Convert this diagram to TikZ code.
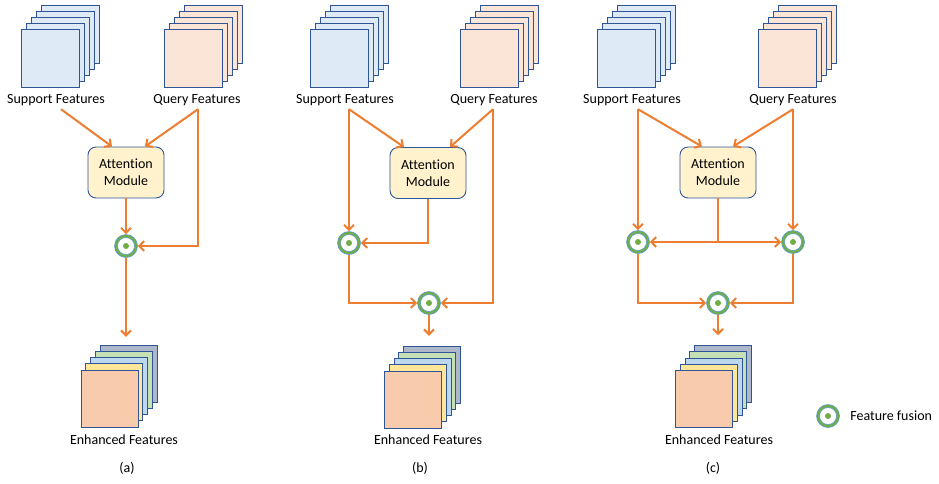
\documentclass[tikz,border=0pt]{standalone}
\usepackage{fontspec}
\setmainfont{Carlito}[Ligatures=NoCommon]
\usetikzlibrary{arrows.meta,positioning}

\definecolor{suppfill}{RGB}{222,235,247}
\definecolor{queryfill}{RGB}{251,229,214}
\definecolor{attnfill}{RGB}{255,242,204}
\definecolor{mapedge}{RGB}{47,85,151}
\definecolor{arrorange}{RGB}{237,125,49}
\definecolor{fusgreen}{RGB}{112,173,71}
\definecolor{fusblue}{RGB}{91,155,213}
\definecolor{encpeach}{RGB}{248,203,173}
\definecolor{encyellow}{RGB}{255,230,153}
\definecolor{encblue}{RGB}{189,215,238}
\definecolor{encgreen}{RGB}{197,224,180}
\definecolor{encgray}{RGB}{173,185,202}

\tikzset{
    fmap/.style={draw=mapedge, line width=0.9pt, minimum size=58pt, inner sep=0pt},
    attn/.style={draw=mapedge, line width=0.9pt, fill=attnfill, rounded corners=8pt,
        minimum width=76pt, minimum height=51pt, align=center},
    flow/.style={draw=arrorange, line width=2pt},
    arr/.style={flow, -{Straight Barb[length=5pt,width=10pt]}},
    fusion/.style={circle, minimum size=23pt, inner sep=0pt, draw=fusblue, line width=0.6pt, fill=fusgreen,
        path picture={
            \fill[white] (path picture bounding box.center) circle (8.5pt);
            \draw[fusblue, line width=0.6pt] (path picture bounding box.center) circle (8.5pt);
            \fill[fusgreen] (path picture bounding box.center) circle (3pt);
        }},
}

\begin{document}
\begin{tikzpicture}[x=1pt, y=-1pt, every node/.style={font=\fontsize{14}{17}\selectfont}]

    \useasboundingbox (0,0) rectangle (939,483);

    %%% (a)
    %support and query maps
    \foreach \k in {4,...,0} {
        \node[fmap, fill=suppfill] (sqa\k) at ({50+5*\k},{58-6*\k}) {};
        \node[fmap, fill=queryfill] (qua\k) at ({193+5*\k},{58-6*\k}) {};
    }
    \node (sa) at (56,100) {Support Features};
    \node (qa) at (197,100) {Query Features};
    \node[attn] (ama) at (126,172.5) {Attention\\Module};
    \node[fusion] (fa) at (126,246) {};
    %enhanced maps
    \foreach \k/\c in {4/encgray,3/encgreen,2/encblue,1/encyellow,0/encpeach} {
        \node[fmap, fill=\c, minimum size=57pt] (ena\k) at ({109.5+4.8*\k},{398.5-6.2*\k}) {};
    }
    \node (ea) at (124,440) {Enhanced Features};
    \node (capa) at (127,468) {(a)};

    \draw[arr] ([xshift=5pt]sa.south) -- ([xshift=-14pt]ama.north);
    \draw[arr] ([xshift=1pt]qa.south) -- ([xshift=19pt]ama.north);
    \draw[arr] ([xshift=1pt]qa.south) |- (fa.east);
    \draw[arr] (ama.south) -- (fa.north);
    \draw[arr, shorten >=8pt] (fa.south) -- (fa.south |- ena4.north);

    %%% (b)
    \foreach \k in {4,...,0} {
        \node[fmap, fill=suppfill] (sqb\k) at ({339.5+5*\k},{58-6*\k}) {};
        \node[fmap, fill=queryfill] (qub\k) at ({489.5+5*\k},{58-6*\k}) {};
    }
    \node (sb) at (345,100) {Support Features};
    \node (qb) at (494,100) {Query Features};
    \node[attn] (amb) at (428,173) {Attention\\Module};
    \node[fusion] (fb1) at (349,243) {};
    \node[fusion] (fb2) at (429,303) {};
    \foreach \k/\c in {4/encgray,3/encgreen,2/encblue,1/encyellow,0/encpeach} {
        \node[fmap, fill=\c, minimum size=57pt] (enb\k) at ({413+4.8*\k},{399.5-6.2*\k}) {};
    }
    \node (eb) at (428,440) {Enhanced Features};
    \node (capb) at (420,468) {(b)};

    \draw[arr] ([xshift=4pt]sb.south) -- ([xshift=-24pt]amb.north);
    \draw[arr] ([xshift=-1pt]qb.south) -- ([xshift=22pt]amb.north);
    \draw[arr] ([xshift=4pt]sb.south) -- (fb1.north);
    \draw[arr] ([xshift=-1pt]qb.south) |- (fb2.east);
    \draw[arr] (amb.south) |- (fb1.east);
    \draw[arr] (fb1.south) |- (fb2.west);
    \draw[arr, shorten >=10pt] (fb2.south) -- (fb2.south |- enb4.north);

    %%% (c)
    \foreach \k in {4,...,0} {
        \node[fmap, fill=suppfill] (sqc\k) at ({626.5+5*\k},{58-6*\k}) {};
        \node[fmap, fill=queryfill] (quc\k) at ({787.5+5*\k},{58-6*\k}) {};
    }
    \node (sc) at (632,100) {Support Features};
    \node (qc) at (793,100) {Query Features};
    \node[attn] (amc) at (718,172.5) {Attention\\Module};
    \node[fusion] (fc1) at (638,242) {};
    \node[fusion] (fc2) at (793,242) {};
    \node[fusion] (fc3) at (718,303) {};
    \foreach \k/\c in {4/encgray,3/encgreen,2/encblue,1/encyellow,0/encpeach} {
        \node[fmap, fill=\c, minimum size=57pt] (enc\k) at ({704+4.8*\k},{399-6.2*\k}) {};
    }
    \node (ec) at (719,440) {Enhanced Features};
    \node (capc) at (713,468) {(c)};

    \draw[arr] ([xshift=6pt]sc.south) -- ([xshift=-16pt]amc.north);
    \draw[arr] (qc.south) -- ([xshift=15pt]amc.north);
    \draw[arr] ([xshift=6pt]sc.south) -- (fc1.north);
    \draw[arr] (qc.south) -- (fc2.north);
    \coordinate (jc) at (amc.south |- fc1.center);
    \draw[flow] (amc.south) -- (jc);
    \draw[arr] (jc) -- (fc1.east);
    \draw[arr] (jc) -- (fc2.west);
    \draw[arr] (fc1.south) |- (fc3.west);
    \draw[arr] (fc2.south) |- (fc3.east);
    \draw[arr, shorten >=10pt] (fc3.south) -- (fc3.south |- enc4.north);

    %legend
    \node[fusion] (fleg) at (828,416) {};
    \node[right=7pt of fleg] (flegtext) {Feature fusion};

\end{tikzpicture}
\end{document}
